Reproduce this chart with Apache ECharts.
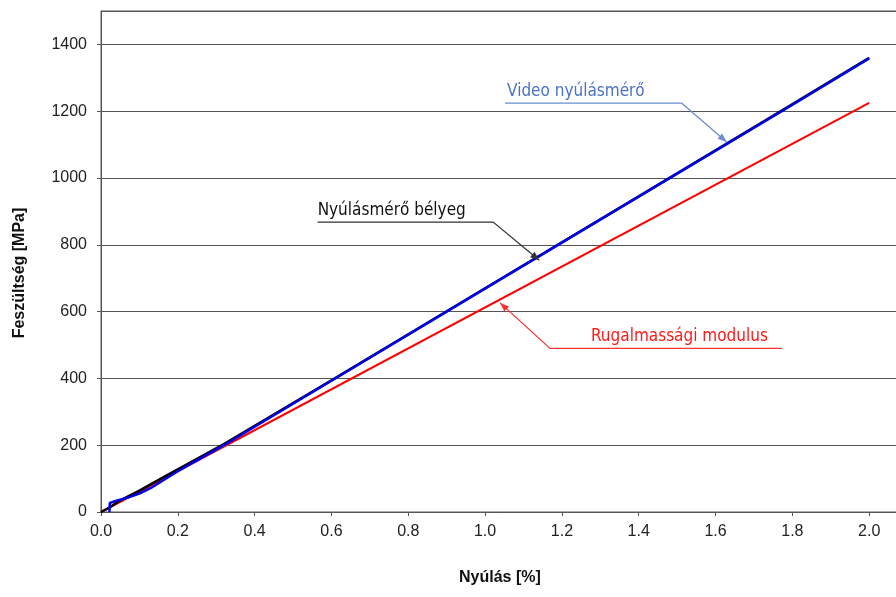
<!DOCTYPE html>
<html>
<head>
<meta charset="utf-8">
<script src="https://cdn.jsdelivr.net/npm/echarts@6/dist/echarts.min.js"></script>
<style>html,body{margin:0;padding:0;background:#fff}#c{width:896px;height:597px}</style>
</head>
<body>
<div id="c"></div>
<script>
// ---- data ----
const xTicks = [0, 0.2, 0.4, 0.6, 0.8, 1.0, 1.2, 1.4, 1.6, 1.8, 2.0];
const yTicks = [0, 200, 400, 600, 800, 1000, 1200, 1400];
const gaugeStrain  = [0, 0.02, 0.05, 0.10, 0.15, 0.20, 0.32, 0.60, 1.00, 1.50, 1.78, 2.00];
const gaugeStress  = [0, 12, 35, 64, 96, 128, 203, 394, 670, 1014, 1207, 1360];
const videoStrain  = [0.022, 0.023, 0.04, 0.07, 0.10, 0.13, 0.20, 0.32, 0.60, 1.00, 1.50, 1.78, 2.00];
const videoStress  = [0, 27, 34, 43, 55, 72, 122, 200, 393, 669, 1013, 1205, 1358];
const modulusStrain = [0, 2.0];
const modulusStress = [0, 1225];
const xTitle = 'Nyúlás [%]';
const yTitle = 'Feszültség [MPa]';
const notes = [
  {text: 'Nyúlásmérő bélyeg', lineFrom: [0.564, 868], lineTo: [1.021, 868], tip: [1.141, 754]},
  {text: 'Video nyúlásmérő', lineFrom: [1.052, 1224], lineTo: [1.512, 1224], tip: [1.629, 1108]},
  {text: 'Rugalmassági modulus', lineFrom: [1.773, 490], lineTo: [1.169, 490], tip: [1.039, 626]}
];

// ---- styles ----
const noteStyle = [
  {textColor: '#111111', lineColor: '#333333', textDx: 0},
  {textColor: '#4a72c8', lineColor: '#6a8fd0', textDx: -2},
  {textColor: '#ff1a1a', lineColor: '#ff3030', textDx: -41}
];

const zip = (a, b) => a.map((v, i) => [v, b[i]]);
const chart = echarts.init(document.getElementById('c'));
const axisColor = '#555555';
const lblFont = {fontFamily: '"Liberation Sans", Arial, sans-serif', fontSize: 16, color: '#222'};

chart.setOption({
  animation: false,
  grid: {left: 101, top: 11, right: -50, bottom: 85, show: true, borderColor: axisColor, borderWidth: 1, outerBoundsMode: 'none', containLabel: false},
  xAxis: {
    type: 'value', min: 0, max: 2.2, interval: 0.2,
    axisLine: {lineStyle: {color: axisColor, width: 1}},
    axisTick: {show: true, length: 4, lineStyle: {color: axisColor}},
    axisLabel: Object.assign({margin: 12, formatter: v => xTicks.some(t => Math.abs(t - v) < 1e-9) ? v.toFixed(1) : ''}, lblFont),
    splitLine: {show: false}
  },
  yAxis: {
    type: 'value', min: 0, max: 1500, interval: 200,
    axisLine: {show: true, lineStyle: {color: axisColor, width: 1}},
    axisTick: {show: true, length: 4, lineStyle: {color: axisColor}},
    axisLabel: Object.assign({margin: 14, showMaxLabel: false, formatter: v => yTicks.includes(v) ? String(v) : ''}, lblFont),
    splitLine: {show: true, lineStyle: {color: axisColor, width: 1}}
  },
  series: [
    {name: 'Rugalmassági modulus', type: 'line', data: zip(modulusStrain, modulusStress), showSymbol: false, lineStyle: {color: '#ff0000', width: 2}, z: 2},
    {name: 'Nyúlásmérő bélyeg', type: 'line', data: zip(gaugeStrain, gaugeStress), showSymbol: false, lineStyle: {color: '#000000', width: 2.5}, z: 3},
    {name: 'Video nyúlásmérő', type: 'line', data: zip(videoStrain, videoStress), showSymbol: false, lineStyle: {color: '#0000ee', width: 2.5}, z: 4}
  ]
});

const g = [];
const titleFont = 'bold 16px "Liberation Sans", Arial, sans-serif';
g.push({type: 'text', left: 459, top: 570, style: {text: xTitle, font: titleFont, fill: '#111'}});
g.push({type: 'text', x: 20, y: 273, rotation: Math.PI / 2, style: {text: yTitle, font: titleFont, fill: '#111', align: 'center', verticalAlign: 'middle'}});

notes.forEach((n, i) => {
  const s = noteStyle[i];
  const p0 = chart.convertToPixel({gridIndex: 0}, n.lineFrom);
  const p1 = chart.convertToPixel({gridIndex: 0}, n.lineTo);
  const pt = chart.convertToPixel({gridIndex: 0}, n.tip);
  g.push({type: 'polyline', shape: {points: [p0, p1, pt]}, style: {stroke: s.lineColor, lineWidth: 1.2, fill: null}, z: 10});
  const ang = Math.atan2(pt[1] - p1[1], pt[0] - p1[0]);
  const L = 9, W = 3.5;
  const bx = pt[0] - L * Math.cos(ang), by = pt[1] - L * Math.sin(ang);
  const nx = -Math.sin(ang) * W, ny = Math.cos(ang) * W;
  g.push({type: 'polygon', shape: {points: [pt, [bx + nx, by + ny], [bx - nx, by - ny]]}, style: {fill: s.lineColor}, z: 11});
  const left = Math.min(p0[0], p1[0]);
  g.push({type: 'text', x: left - s.textDx, y: p0[1] - 12, style: {text: n.text, font: '17px "DejaVu Sans Condensed", "DejaVu Sans", sans-serif', fill: s.textColor, align: 'left', verticalAlign: 'middle'}, z: 12});
});
chart.setOption({graphic: g});
</script>
</body>
</html>
